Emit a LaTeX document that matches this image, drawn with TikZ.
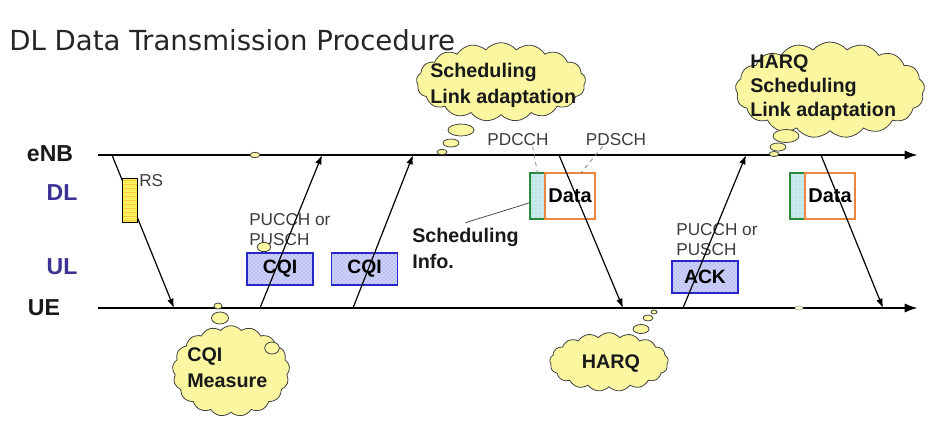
\documentclass[tikz,border=0pt]{standalone}
\usepackage{fontspec}
\setmainfont{Liberation Sans}
\newfontfamily\titlefont{DejaVu Sans}
\usetikzlibrary{positioning}
\usetikzlibrary{shapes.symbols,shapes.geometric}
\usetikzlibrary{patterns}
\usetikzlibrary{arrows.meta}

\definecolor{cloudyellow}{RGB}{251,247,160}
\definecolor{rsyellow}{RGB}{250,240,90}
\definecolor{chanblue}{RGB}{60,50,150}
\definecolor{cqiedge}{RGB}{40,40,200}
\definecolor{cqifill}{RGB}{205,210,248}
\definecolor{ctrlgreen}{RGB}{40,140,60}
\definecolor{ctrlfill}{RGB}{200,235,240}
\definecolor{dataorange}{RGB}{235,135,60}
\definecolor{textgray}{RGB}{60,60,60}

\tikzset{
	timeline/.style={-{Latex[length=10pt,width=7pt]}, line width=1.9pt},
	msg/.style={-{Latex[length=7pt,width=5pt]}, line width=0.9pt},
	side/.style={font=\bfseries\fontsize{17.3pt}{20pt}\selectfont, text=black!90},
	chan/.style={side, text=chanblue},
	bold/.style={font=\bfseries\fontsize{14.8pt}{19.5pt}\selectfont, align=left, inner sep=0pt, text=black!90},
	small/.style={font=\fontsize{12.9pt}{15pt}\selectfont, text=textgray, align=left, inner sep=0pt},
	thought/.style={cloud, cloud puffs=17, cloud puff arc=100, cloud ignores aspect, draw=black!75, fill=cloudyellow, line width=0.6pt, inner sep=0pt},
	bubble/.style={ellipse, draw=black!75, fill=cloudyellow, line width=0.6pt, inner sep=0pt},
	cqibox/.style={draw=cqiedge, line width=1.3pt, preaction={fill=cqifill}, pattern=crosshatch dots, pattern color=cqiedge!55, minimum width=49.5pt, minimum height=24pt, inner sep=0pt, outer sep=0pt, font=\bfseries\fontsize{14.5pt}{16pt}\selectfont},
	ctrlbox/.style={draw=ctrlgreen, line width=1.3pt, preaction={fill=ctrlfill}, pattern=dots, pattern color=ctrlgreen!50, minimum width=11.25pt, minimum height=34pt, inner sep=0pt, outer sep=0pt},
	databox/.style={draw=dataorange, line width=1.3pt, minimum width=37.5pt, minimum height=34pt, inner sep=0pt, outer sep=0pt, font=\bfseries\fontsize{15pt}{17pt}\selectfont},
	rsbox/.style={draw=black, line width=0.7pt, preaction={fill=rsyellow}, pattern=horizontal lines, pattern color=orange!35!rsyellow, minimum width=11.25pt, minimum height=33pt, inner sep=0pt},
}

\begin{document}
\begin{tikzpicture}[x=0.75pt, y=-0.75pt]
	\useasboundingbox (0,0) rectangle (944,437);
	\node[anchor=base west, inner sep=0pt, font=\titlefont\fontsize{20.7pt}{24pt}\selectfont, text=black!85] (title) at (9,50) {DL Data Transmission Procedure};

	% time lines
	\node[side] (enb) at (50,154) {eNB};
	\node[side] (ue) at (44,308) {UE};
	\node[chan] (dl) at (62,193) {DL};
	\node[chan] (ul) at (62,267) {UL};
	\coordinate (enb-start) at (98,155);
	\coordinate (enb-end) at (918,155);
	\coordinate (ue-start) at (98,308);
	\coordinate (ue-end) at (918,308);
	\draw[timeline] (enb-start) -- (enb-end);
	\draw[timeline] (ue-start) -- (ue-end);
	\node[bubble, minimum width=7.5pt, minimum height=4pt] (dot1) at (255,155) {};
	\node[bubble, draw=black!30, fill=cloudyellow!50, minimum width=6pt, minimum height=3pt] (dot3) at (799,308) {};

	% blocks
	\node[cqibox] (cqi1) at (280,269) {CQI};
	\node[cqibox] (cqi2) at (364.5,269) {CQI};
	\node[cqibox] (ack) at (705,277) {ACK};
	\node[small, anchor=west] (pucch1) at (249,230) {PUCCH or\\PUSCH};
	\node[small, anchor=west] (pucch2) at (676,240) {PUCCH or\\PUSCH};
	\node[bubble, minimum width=10pt, minimum height=7pt] (dot2) at (264,247) {};
	\node[ctrlbox] (ctrl1) at (537.5,196) {};
	\node[databox, right=0pt of ctrl1] (data1) {Data};
	\node[ctrlbox] (ctrl2) at (797.5,196) {};
	\node[databox, right=0pt of ctrl2] (data2) {Data};
	\node[small] (pdcch) at (518,140) {PDCCH};
	\node[small] (pdsch) at (616,140) {PDSCH};
	\draw[dashed, line width=0.6pt, black!50] ([xshift=11pt]pdcch.south) -- (ctrl1.north);
	\draw[dashed, line width=0.6pt, black!50] ([xshift=-10pt]pdsch.south) -- ([xshift=8pt]data1.north);
	\node[bold, anchor=north west] (sched-info) at (412,228) {Scheduling\\Info.};
	\draw[line width=0.6pt, black!70] ([yshift=4pt]sched-info.north) -- ([yshift=-5pt]ctrl1.west);

	% messages
	\coordinate (rs-tx) at (112,155);
	\coordinate (rs-rx) at (174,308);
	\coordinate (cqi1-tx) at (260,308);
	\coordinate (cqi1-rx) at (322,155);
	\coordinate (cqi2-tx) at (353,308);
	\coordinate (cqi2-rx) at (413,155);
	\coordinate (data1-tx) at (559,155);
	\coordinate (data1-rx) at (623,308);
	\coordinate (ack-tx) at (683,308);
	\coordinate (ack-rx) at (746,155);
	\coordinate (data2-tx) at (821,155);
	\coordinate (data2-rx) at (883,308);
	\draw[msg] (rs-tx) -- (rs-rx);
	\draw[msg] (cqi1-tx) -- (cqi1-rx);
	\draw[msg] (cqi2-tx) -- (cqi2-rx);
	\draw[msg] (data1-tx) -- (data1-rx);
	\draw[msg] (ack-tx) -- (ack-rx);
	\draw[msg] (data2-tx) -- (data2-rx);
	\node[rsbox] (rs) at (129.5,200) {};
	\node[small, anchor=west] (rs-label) at (139,181) {RS};

	% thought clouds
	\node[thought, minimum width=127pt, minimum height=59pt] (sched-cloud) at (501,82) {};
	\node[bold, anchor=west] (sched-text) at (430,85) {Scheduling\\Link adaptation};
	\node[bubble, minimum width=19.5pt, minimum height=9pt] (sched-b1) at (461,130) {};
	\node[bubble, minimum width=12pt, minimum height=6pt] (sched-b2) at (451,143) {};
	\node[bubble, minimum width=7.5pt, minimum height=4pt] (sched-b3) at (442,152) {};

	\node[thought, minimum width=142pt, minimum height=72pt] (harq-cloud) at (830,90) {};
	\node[bold, anchor=west, font=\bfseries\fontsize{14.8pt}{18pt}\selectfont] (harq-text) at (750,88) {HARQ\\Scheduling\\Link adaptation};
	\node[bubble, minimum width=19.5pt, minimum height=9.75pt] (harq-b1) at (786,136) {};
	\node[bubble, minimum width=12pt, minimum height=6pt] (harq-b2) at (778,147) {};
	\node[bubble, minimum width=7.5pt, minimum height=3.75pt] (harq-b3) at (774,154) {};

	\node[thought, minimum width=88pt, minimum height=68pt] (meas-cloud) at (231,371) {};
	\node[bold, anchor=west] (meas-text) at (187,368) {CQI\\Measure};
	\node[bubble, minimum width=6pt, minimum height=4.5pt] (meas-b1) at (218,306) {};
	\node[bubble, minimum width=12.75pt, minimum height=9pt] (meas-b2) at (220,318) {};
	\node[bubble, minimum width=11pt, minimum height=9pt] (meas-b3) at (272,348) {};

	\node[thought, minimum width=89pt, minimum height=44pt] (retx-cloud) at (609,362) {};
	\node[bold] (retx-text) at (611,364) {HARQ};
	\node[bubble, minimum width=12pt, minimum height=6.75pt] (retx-b1) at (641,329) {};
	\node[bubble, minimum width=7.5pt, minimum height=4.5pt] (retx-b2) at (648,318) {};
	\node[bubble, minimum width=4.5pt, minimum height=3pt] (retx-b3) at (654,312) {};
\end{tikzpicture}
\end{document}
